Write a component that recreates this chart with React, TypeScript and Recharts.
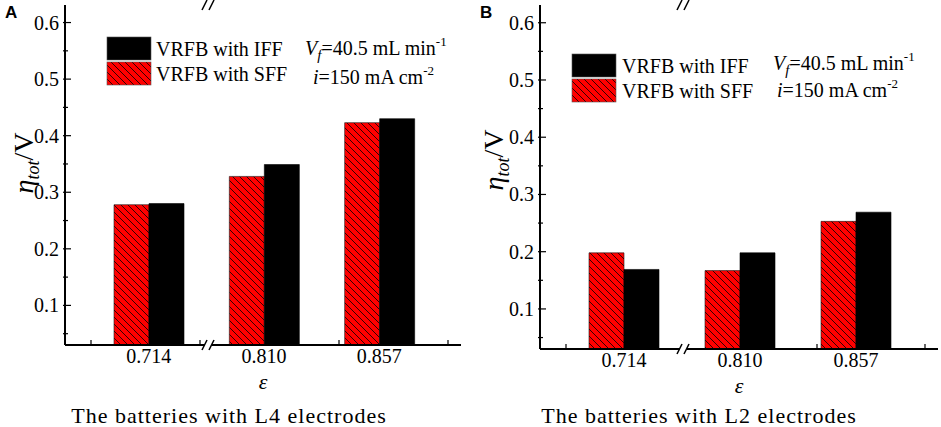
import React from "react";
import { BarChart, Bar, XAxis, YAxis } from "recharts";

const categories = ["0.714", "0.810", "0.857"];
const sffL4 = [0.278, 0.328, 0.423];
const iffL4 = [0.28, 0.349, 0.43];
const sffL2 = [0.198, 0.167, 0.253];
const iffL2 = [0.169, 0.198, 0.269];

const yTicks = [0.05, 0.1, 0.15, 0.2, 0.25, 0.3, 0.35, 0.4, 0.45, 0.5, 0.55, 0.6];
const yDomain: [number, number] = [0.03, 0.631];

const SERIF = '"Liberation Serif", "Times New Roman", serif';
const SANS = '"Liberation Sans", Arial, sans-serif';

function buildRows(sff: number[], iff: number[]) {
  return categories.map((c, i) => ({ eps: c, sff: sff[i], iff: iff[i] }));
}

function YTick(props: any) {
  const { x, y, payload } = props;
  const v: number = payload.value;
  const major = Math.round(v * 100) % 10 === 0;
  const axisX = x + 4;
  return (
    <g>
      <line x1={axisX - 2} x2={axisX + (major ? 6 : 3)} y1={y} y2={y} stroke="#000" strokeWidth={1.2} />
      {major && (
        <text x={x - 2} y={y} dy={7} textAnchor="end" style={{ fontFamily: SERIF, fontSize: 20 }} fill="#000">
          {v.toFixed(1)}
        </text>
      )}
    </g>
  );
}

function XTick(props: any) {
  const { x, y, payload } = props;
  return (
    <text x={x} y={y} dy={15} textAnchor="middle" style={{ fontFamily: SERIF, fontSize: 20 }} fill="#000">
      {payload.value}
    </text>
  );
}

function Hatch({ id }: { id: string }) {
  return (
    <pattern id={id} patternUnits="userSpaceOnUse" width={7} height={7}>
      <rect width={7} height={7} fill="#ff0000" />
      <path d="M0,0 L7,7 M-1,6 L1,8 M6,-1 L8,1" stroke="#000" strokeWidth={0.8} />
    </pattern>
  );
}

interface PanelProps {
  letter: string;
  left: number;
  width: number;
  plot: { l: number; r: number; t: number; b: number };
  sff: number[];
  iff: number[];
  legend: { x: number; y: number; textX: number };
  note: { vx: number; vy: number; ix: number; iy: number };
  breakX: number;
  minorX: number[];
  subtitle: string;
  subtitleX: number;
  yLabelY: number;
}

function Panel(p: PanelProps) {
  const data = buildRows(p.sff, p.iff);
  const height = 427;
  const pid = `hatch-${p.letter}`;
  const yAxisW = 50;
  const mid = (p.plot.l + p.plot.r) / 2;
  const serif = { fontFamily: SERIF };
  return (
    <div style={{ position: "absolute", left: p.left, top: 0, width: p.width, height }}>
      <BarChart
        width={p.width}
        height={height}
        data={data}
        barGap={0}
        barSize={35}
        margin={{ top: p.plot.t, bottom: height - p.plot.b - 30, left: p.plot.l - yAxisW, right: p.width - p.plot.r }}
      >
        <defs>
          <Hatch id={pid} />
        </defs>
        <XAxis
          dataKey="eps"
          height={30}
          padding={{ left: 26, right: 24 }}
          tickLine={false}
          tickSize={0}
          tickMargin={3}
          axisLine={{ stroke: "#000", strokeWidth: 2 }}
          tick={<XTick />}
        />
        <XAxis xAxisId="top" orientation="top" dataKey="eps" height={0} tick={false} tickLine={false}
          axisLine={{ stroke: "#000", strokeWidth: 2 }} />
        <YAxis
          type="number"
          domain={yDomain}
          ticks={yTicks}
          width={yAxisW}
          allowDataOverflow
          tickLine={false}
          tickSize={0}
          tickMargin={4}
          axisLine={{ stroke: "#000", strokeWidth: 2 }}
          tick={<YTick />}
        />
        <YAxis yAxisId="right" orientation="right" type="number" domain={yDomain} width={0} tick={false}
          tickLine={false} axisLine={{ stroke: "#000", strokeWidth: 2 }} />
        <Bar dataKey="sff" fill={`url(#${pid})`} stroke="#1a1a1a" strokeWidth={0.6} isAnimationActive={false} />
        <Bar dataKey="iff" fill="#000" stroke="#000" strokeWidth={0.6} isAnimationActive={false} />
      </BarChart>

      <svg width={p.width} height={height} style={{ position: "absolute", left: 0, top: 0, pointerEvents: "none" }}>
        <defs>
          <Hatch id={`${pid}-leg`} />
        </defs>
        <text x={p.letter === "A" ? 5 : 10} y={18} style={{ fontFamily: SANS }} fontWeight="bold" fontSize={17} fill="#000">
          {p.letter}
        </text>
        <text transform="rotate(-90)" x={-p.yLabelY} y={33} textAnchor="middle" style={serif} fontSize={28} fill="#000">
          <tspan fontStyle="italic">η</tspan>
          <tspan fontStyle="italic" fontSize={18} dy={6}>tot</tspan>
          <tspan dy={-6}>/V</tspan>
        </text>
        {p.minorX.map((mx) => (
          <line key={mx} x1={mx} x2={mx} y1={p.plot.b} y2={p.plot.b - 5} stroke="#000" strokeWidth={1.2} />
        ))}
        {[p.plot.t, p.plot.b].map((yy, i) => (
          <g key={i}>
            <rect x={p.breakX - 3} y={yy - 2} width={7} height={4} fill="#fff" />
            <line x1={p.breakX - 6} y1={yy + 5} x2={p.breakX - 1} y2={yy - 5} stroke="#000" strokeWidth={1.5} />
            <line x1={p.breakX + 1} y1={yy + 5} x2={p.breakX + 6} y2={yy - 5} stroke="#000" strokeWidth={1.5} />
          </g>
        ))}
        <rect x={p.legend.x} y={p.legend.y} width={44} height={23} fill="#000" stroke="#555" strokeWidth={0.6} />
        <rect x={p.legend.x} y={p.legend.y + 25} width={44} height={23} fill={`url(#${pid}-leg)`} stroke="#555" strokeWidth={0.6} />
        <text x={p.legend.textX} y={p.legend.y + 19} style={serif} fontSize={20} fill="#000">VRFB with IFF</text>
        <text x={p.legend.textX} y={p.legend.y + 44} style={serif} fontSize={20} fill="#000">VRFB with SFF</text>
        <text x={p.note.vx} y={p.note.vy} style={serif} fontSize={20} fill="#000">
          <tspan fontStyle="italic">V</tspan>
          <tspan fontStyle="italic" fontSize={15} dy={5}>f</tspan>
          <tspan dy={-5}>=40.5 mL min</tspan>
          <tspan fontSize={13} dy={-9}>-1</tspan>
        </text>
        <text x={p.note.ix} y={p.note.iy} style={serif} fontSize={20} fill="#000">
          <tspan fontStyle="italic">i</tspan>
          <tspan>=150 mA cm</tspan>
          <tspan fontSize={13} dy={-9}>-2</tspan>
        </text>
        <text x={mid} y={p.plot.b + 44} textAnchor="middle" style={serif} fontStyle="italic" fontSize={22} fill="#000">
          ε
        </text>
        <text x={p.subtitleX} y={423} textAnchor="middle" style={{ ...serif, letterSpacing: 1 }} fontSize={22} fill="#000">
          {p.subtitle}
        </text>
      </svg>
    </div>
  );
}

export default function App() {
  return (
    <div style={{ position: "absolute", left: 0, top: 0, width: 941, height: 427, background: "#fff", overflow: "hidden" }}>
      <Panel
        letter="A"
        left={0}
        width={470}
        plot={{ l: 65, r: 461, t: 5, b: 345 }}
        sff={sffL4}
        iff={iffL4}
        legend={{ x: 107, y: 37, textX: 156 }}
        note={{ vx: 305, vy: 55, ix: 313, iy: 84 }}
        breakX={208}
        minorX={[91, 200, 339, 448]}
        subtitle="The batteries with L4 electrodes"
        subtitleX={229}
        yLabelY={163}
      />
      <Panel
        letter="B"
        left={470}
        width={471}
        plot={{ l: 70, r: 468, t: 5, b: 349 }}
        sff={sffL2}
        iff={iffL2}
        legend={{ x: 102, y: 54, textX: 152 }}
        note={{ vx: 303, vy: 70, ix: 307, iy: 97 }}
        breakX={213}
        minorX={[96, 347, 455]}
        subtitle="The batteries with L2 electrodes"
        subtitleX={229}
        yLabelY={160}
      />
    </div>
  );
}
